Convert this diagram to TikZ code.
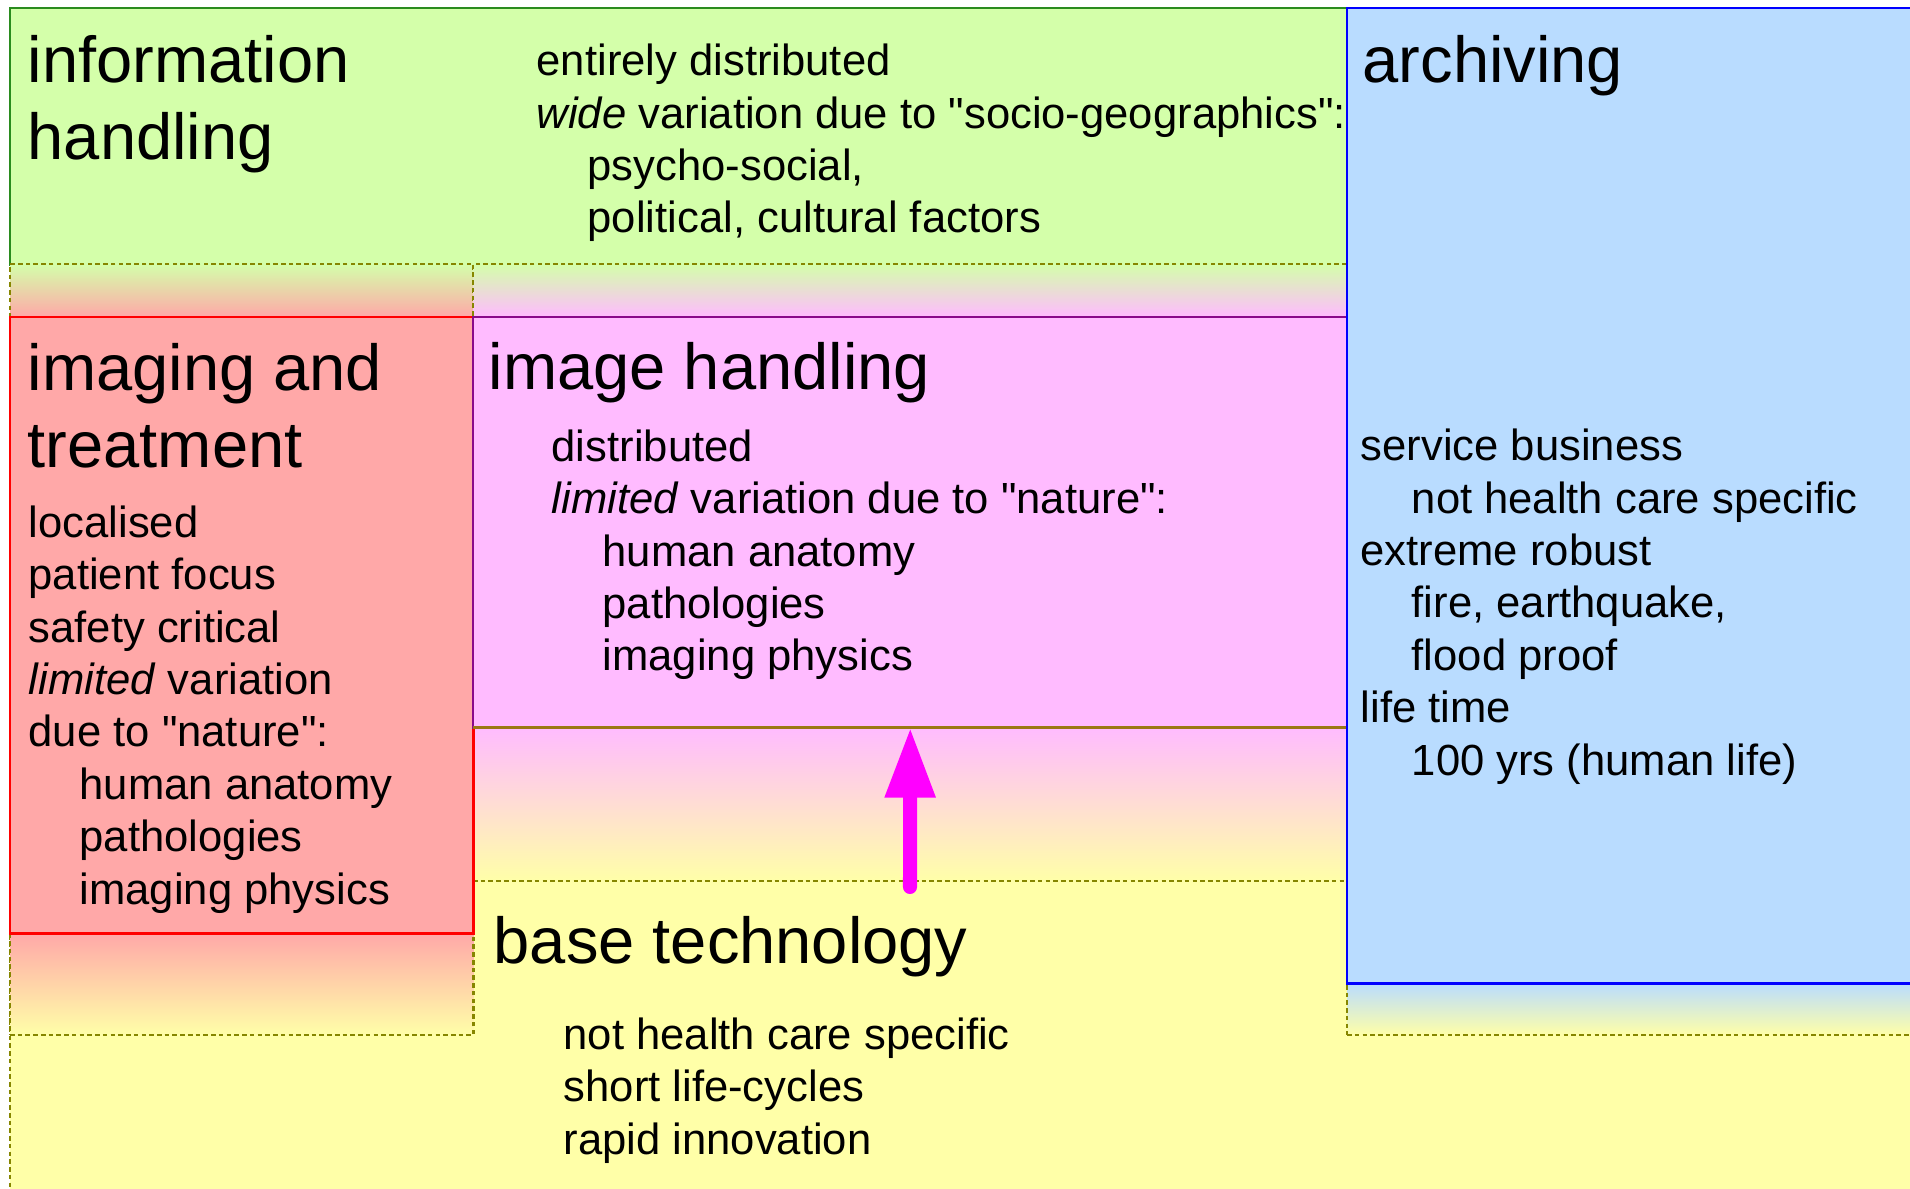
\documentclass[tikz,border=0pt]{standalone}
\usepackage{fontspec}
\setmainfont{Liberation Sans}[Ligatures=TeXOff]
\usepackage{xcolor}
\usepackage{tikz}
\usetikzlibrary{positioning,arrows.meta}
\definecolor{infogreen}{HTML}{D4FFAA}
\definecolor{infoline}{HTML}{2A8C1E}
\definecolor{archblue}{HTML}{B9DCFF}
\definecolor{archline}{HTML}{0000FF}
\definecolor{imgred}{HTML}{FFA8A8}
\definecolor{imgline}{HTML}{FF0000}
\definecolor{handpink}{HTML}{FFBBFF}
\definecolor{handline}{HTML}{8A0A8A}
\definecolor{handfoot}{HTML}{9A7814}
\definecolor{baseyellow}{HTML}{FFFFA8}
\definecolor{dashline}{HTML}{868600}
\definecolor{arrowpink}{HTML}{FF00FF}
\newcommand{\indentstep}{\hspace*{0.51cm}}

\begin{document}
\begin{tikzpicture}[x=0.01cm, y=-0.01cm,
  layer/.style={anchor=north west, inner sep=0pt, outer sep=0pt, line width=0.8pt},
  gap/.style={layer, draw=dashline, dash pattern=on 1.3pt off 0.9pt},
  headtext/.style={anchor=base west, inner sep=0pt, align=left, font=\fontsize{18.5}{22.1}\selectfont},
  bodytext/.style={anchor=base west, inner sep=0pt, align=left, font=\fontsize{12.4}{14.9}\selectfont},
  uparrow/.style={-{Triangle[length=20pt, width=13.4pt]}, arrowpink, line width=4pt, line cap=round}
]
  \useasboundingbox (0,0) rectangle (1910,1189);

  % layers
  \node[gap, fill=baseyellow, minimum width=19.2cm, minimum height=3.2cm] (base) at (10,881) {};
  \node[layer, fill=infogreen, draw=infoline, minimum width=13.37cm, minimum height=2.56cm] (info) at (10,8) {};

  % shaded gaps between the layers
  \node[gap, top color=infogreen, bottom color=imgred, minimum width=4.63cm, minimum height=0.53cm] (gapred) at (10,264) {};
  \node[gap, top color=infogreen, bottom color=handpink, minimum width=8.74cm, minimum height=0.53cm] (gappink) at (473,264) {};
  \node[gap, top color=imgred, bottom color=baseyellow, minimum width=4.63cm, minimum height=1.02cm] (gapredfoot) at (10,933) {};
  \node[gap, top color=handpink, bottom color=baseyellow, minimum width=8.74cm, minimum height=1.54cm] (gappinkfoot) at (473,727) {};
  \node[gap, top color=archblue, bottom color=baseyellow, minimum width=5.8cm, minimum height=0.52cm] (gapbluefoot) at (1347,983) {};

  \node[layer, fill=imgred, draw=imgline, minimum width=4.63cm, minimum height=6.16cm] (imaging) at (10,317) {};
  \node[layer, fill=handpink, draw=handline, minimum width=8.74cm, minimum height=4.10cm] (image) at (473,317) {};
  \draw[handfoot, line width=0.8pt] (image.south west) -- (image.south east);
  \node[layer, fill=archblue, draw=archline, minimum width=5.8cm, minimum height=9.75cm] (archive) at (1347,8) {};

  \coordinate (techfoot) at (910,887);
  \draw[uparrow] (techfoot) -- (image.south);

  % texts (anchored at the baseline of their last line)
  \node[headtext] (infotitle) at (27,160) {information\\handling};
  \node[bodytext] (infotext) at (536,233) {entirely distributed\\\textit{wide} variation due to "socio-geographics":\\\indentstep psycho-social,\\\indentstep political, cultural factors};

  \node[headtext] (imgtitle) at (27,468) {imaging and\\treatment};
  \node[bodytext] (imgtext) at (28,904) {localised\\patient focus\\safety critical\\\textit{limited} variation\\due to "nature":\\\indentstep human anatomy\\\indentstep pathologies\\\indentstep imaging physics};

  \node[headtext] (handtitle) at (488,390) {image handling};
  \node[bodytext] (handtext) at (551,671) {distributed\\\textit{limited} variation due to "nature":\\\indentstep human anatomy\\\indentstep pathologies\\\indentstep imaging physics};

  \node[headtext] (archtitle) at (1362,83) {archiving};
  \node[bodytext] (archtext) at (1360,775) {service business\\\indentstep not health care specific\\extreme robust\\\indentstep fire, earthquake,\\\indentstep flood proof\\life time\\\indentstep 100 yrs (human life)};

  \node[headtext] (basetitle) at (493,963) {base technology};
  \node[bodytext] (basetext) at (563,1154) {not health care specific\\short life-cycles\\rapid innovation};
\end{tikzpicture}
\end{document}
